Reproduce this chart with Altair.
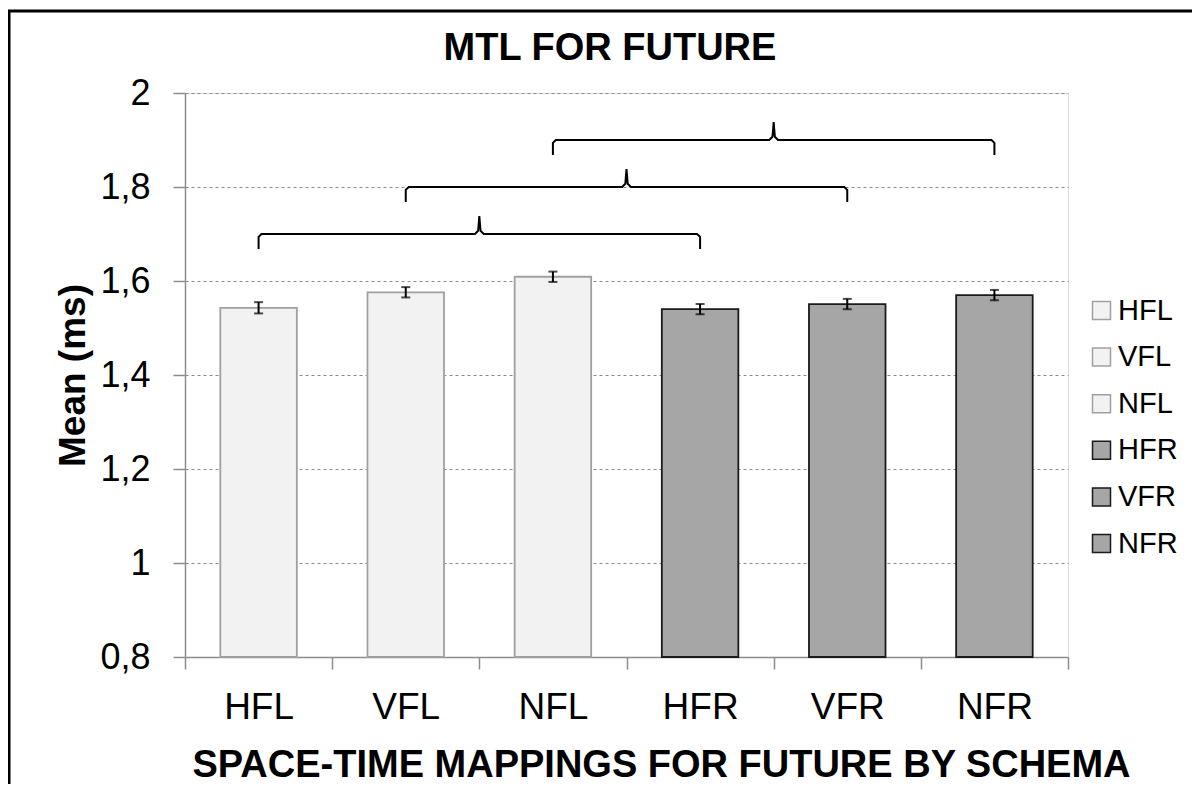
import altair as alt
import pandas as pd

# ---- data ----
title_text = ["MTL FOR FUTURE"]
categories = ["HFL", "VFL", "NFL", "HFR", "VFR", "NFR"]
means = [1.543, 1.576, 1.609, 1.540, 1.551, 1.570]
errors = [0.012, 0.011, 0.011, 0.011, 0.011, 0.011]
fill_colors = ["#F2F2F2", "#F2F2F2", "#F2F2F2", "#A6A6A6", "#A6A6A6", "#A6A6A6"]
stroke_colors = ["#A0A0A0", "#A0A0A0", "#A0A0A0", "#1A1A1A", "#1A1A1A", "#1A1A1A"]
y_ticks = [0.8, 1.0, 1.2, 1.4, 1.6, 1.8, 2.0]

# comparison braces: from category index to category index, at a given level
brace_from = [0, 1, 2]
brace_to = [3, 4, 5]
brace_level = [1.70, 1.80, 1.90]
brace_drop = 0.032
brace_rise = 0.038

FONT = "Liberation Sans"

df = pd.DataFrame({
    "cat": categories,
    "mean": means,
    "err": errors,
})
df["lo"] = df["mean"] - df["err"]
df["hi"] = df["mean"] + df["err"]

# brace paths
rows = []
for b, (f, t, lv) in enumerate(zip(brace_from, brace_to, brace_level)):
    l = f + 0.5
    r = t + 0.5
    m = (l + r) / 2
    pts = [
        (l, lv - brace_drop),
        (l, lv - 0.006),
        (l + 0.02, lv),
        (m - 0.03, lv),
        (m - 0.008, lv + 0.007),
        (m, lv + brace_rise),
        (m + 0.008, lv + 0.007),
        (m + 0.03, lv),
        (r - 0.02, lv),
        (r, lv - 0.006),
        (r, lv - brace_drop),
    ]
    for s, (px, py) in enumerate(pts):
        rows.append({"brace": b, "seq": s, "bx": px, "by": py})
braces_df = pd.DataFrame(rows)

yscale = alt.Scale(domain=[0.8, 2.0], nice=False, zero=False)
xscale = alt.Scale(domain=categories, paddingInner=0, paddingOuter=0)

x_enc = alt.X(
    "cat:N",
    scale=xscale,
    sort=categories,
    axis=alt.Axis(
        title="SPACE-TIME MAPPINGS FOR FUTURE BY SCHEMA",
        titleFont=FONT,
        titleFontSize=38,
        titleFontWeight="bold",
        titleColor="black",
        titleBaseline="alphabetic",
        titleAlign="center",
        titleAnchor="start",
        titleX=476,
        titleY=119,
        labelAngle=0,
        labelFont=FONT,
        labelFontSize=37,
        labelColor="black",
        labelPadding=20,
        tickBand="extent",
        tickSize=12,
        tickColor="#8C8C8C",
        tickWidth=1.5,
        domainColor="#8C8C8C",
        domainWidth=1.5,
        grid=False,
    ),
)

y_enc = alt.Y(
    "mean:Q",
    scale=yscale,
    axis=alt.Axis(
        title="Mean (ms)",
        titleFont=FONT,
        titleFontSize=37,
        titleFontWeight="bold",
        titleColor="black",
        titleX=-112,
        titleBaseline="middle",
        values=y_ticks,
        labelExpr="replace(toString(round(datum.value*10)/10), '.', ',')",
        labelFont=FONT,
        labelFontSize=36,
        labelColor="black",
        labelPadding=23,
        tickSize=12,
        tickColor="#8C8C8C",
        tickWidth=1.5,
        domainColor="#8C8C8C",
        domainWidth=1.5,
        grid=True,
        gridColor="#8C8C8C",
        gridDash=[3, 3],
        gridWidth=1,
    ),
)

legend_kw = dict(
    title=None,
    orient="none",
    legendX=902,
    legendY=203,
    symbolType="square",
    symbolSize=324,
    symbolStrokeWidth=1.5,
    labelFont=FONT,
    labelFontSize=29,
    labelColor="black",
    labelOffset=2,
    rowPadding=16.6,
)

bars = alt.Chart(df).mark_bar(width={"band": 0.52}, strokeWidth=1.8).encode(
    x=x_enc,
    y=y_enc,
    y2=alt.datum(0.8),
    fill=alt.Fill(
        "cat:N",
        scale=alt.Scale(domain=categories, range=fill_colors),
        legend=alt.Legend(**legend_kw),
    ),
    stroke=alt.Stroke(
        "cat:N",
        scale=alt.Scale(domain=categories, range=stroke_colors),
        legend=alt.Legend(**legend_kw),
    ),
)

x_plain = alt.X("cat:N", scale=xscale, sort=categories, axis=None)

err_rule = alt.Chart(df).mark_rule(color="black", strokeWidth=2).encode(
    x=x_plain,
    y=alt.Y("lo:Q", scale=yscale),
    y2="hi:Q",
)
err_top = alt.Chart(df).mark_tick(color="black", thickness=2, size=9).encode(
    x=x_plain,
    y=alt.Y("hi:Q", scale=yscale),
)
err_bot = alt.Chart(df).mark_tick(color="black", thickness=2, size=9).encode(
    x=x_plain,
    y=alt.Y("lo:Q", scale=yscale),
)

braces = alt.Chart(braces_df).mark_line(color="black", strokeWidth=2, interpolate="linear").encode(
    x=alt.X("bx:Q", scale=alt.Scale(domain=[0, len(categories)], nice=False, zero=False), axis=None),
    y=alt.Y("by:Q", scale=yscale),
    detail="brace:N",
    order="seq:Q",
)

title_mark = alt.Chart(pd.DataFrame({"t": title_text})).mark_text(
    font=FONT, fontSize=38, fontWeight="bold", color="black",
    align="center", baseline="alphabetic",
).encode(
    text="t:N", x=alt.value(425), y=alt.value(-33)
)

one = pd.DataFrame({"k": [0]})
border_top = alt.Chart(one).mark_rule(color="black", strokeWidth=3).encode(
    x=alt.value(-178), x2=alt.value(1020), y=alt.value(-82)
)
border_left = alt.Chart(one).mark_rule(color="black", strokeWidth=3).encode(
    x=alt.value(-176), y=alt.value(-83), y2=alt.value(700)
)

chart = alt.layer(
    bars, err_rule, err_top, err_bot, braces, title_mark, border_top, border_left
).resolve_scale(
    x="independent"
).properties(
    width=883,
    height=564,
    autosize=alt.AutoSizeParams(type="none"),
    padding={"left": 177, "top": 85, "right": 124, "bottom": 127},
).configure_view(stroke=None).configure(background="white")

chart.save("out.html", embed_options={"renderer": "svg", "actions": False})
